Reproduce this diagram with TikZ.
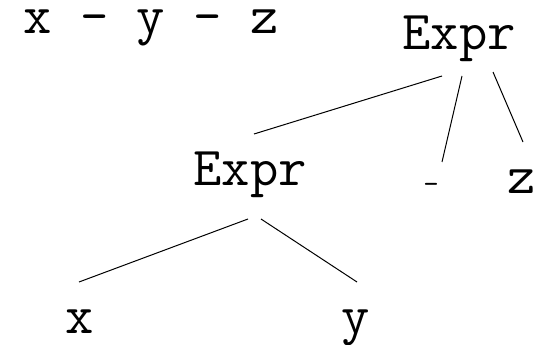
\documentclass[tikz,border=0pt]{standalone}
\usepackage{fontspec}
\newcommand{\tokfont}{\ttfamily\fontsize{55}{64}\selectfont}
\newcommand{\opfont}{\ttfamily\fontsize{30}{36}\selectfont}
\begin{document}
\begin{tikzpicture}[x=1pt, y=-1pt, line width=1pt,
    tok/.style={font=\tokfont, inner sep=0pt, anchor=base}]
    \useasboundingbox (0, 0) rectangle (552, 345);

    % Source text
    \node[tok, anchor=base west] (src) at (23, 34) {x - y - z};

    % Tree nodes
    \node[tok] (expr) at (459, 50) {Expr};
    \node[tok] (subexpr) at (250, 185) {Expr};
    \node[tok, font=\opfont] (minus) at (431, 193) {-};
    \node[tok] (zvar) at (522, 193) {z};
    \node[tok] (xvar) at (80, 333) {x};
    \node[tok] (yvar) at (356, 333) {y};

    % Edges of the outer Expr
    \draw ([shift={(-17, 26)}]expr.base) -- ([shift={(4, -51)}]subexpr.base);
    \draw ([shift={(3, 26)}]expr.base) -- ([shift={(11, -31)}]minus.base);
    \draw ([shift={(34, 22)}]expr.base) -- ([shift={(1, -51)}]zvar.base);

    % Edges of the inner Expr
    \draw ([shift={(-2, 34)}]subexpr.base) -- ([shift={(-1, -51)}]xvar.base);
    \draw ([shift={(11, 34)}]subexpr.base) -- ([shift={(1, -51)}]yvar.base);
\end{tikzpicture}
\end{document}
